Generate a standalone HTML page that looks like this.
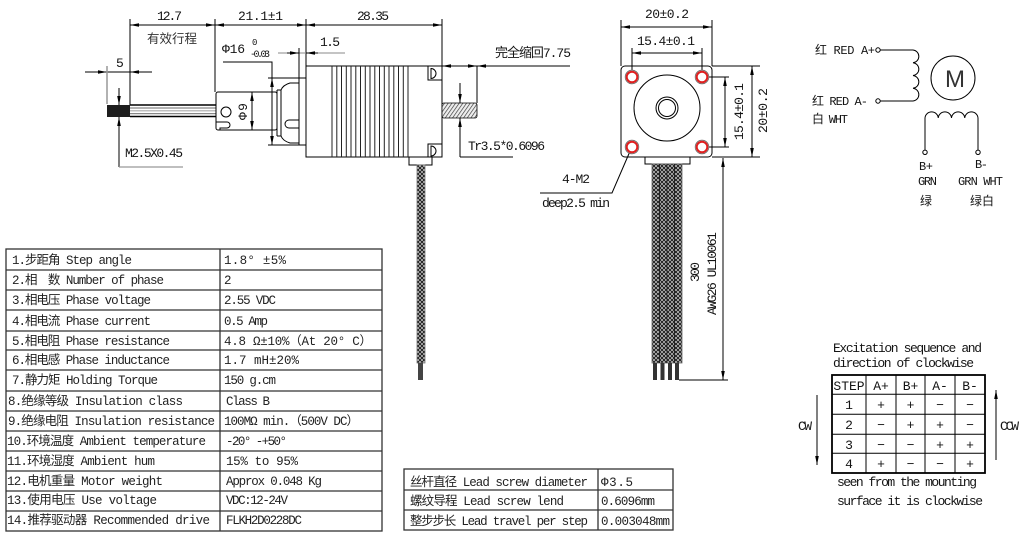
<!DOCTYPE html>
<html><head><meta charset="utf-8">
<style>
html,body{margin:0;padding:0;background:#fff;}
svg{display:block;}
text{font-family:"Liberation Mono","Noto Sans CJK SC",monospace;font-size:13px;fill:#141414;}
.cj{font-family:"Liberation Sans","Noto Sans CJK SC",sans-serif;}
.t{font-size:12.5px;fill:#222;}
</style></head><body>
<svg width="1021" height="534" viewBox="0 0 1021 534" xmlns="http://www.w3.org/2000/svg">
<defs>
<marker id="ar" viewBox="0 0 10 4" refX="10" refY="2" markerWidth="9" markerHeight="3.6" markerUnits="userSpaceOnUse" orient="auto-start-reverse"><path d="M0,0L10,2L0,4z" fill="#000"/></marker>
<pattern id="br" width="4" height="4" patternUnits="userSpaceOnUse"><rect width="4" height="4" fill="#bcbcbc"/><path d="M0,0L4,4M4,0L0,4" stroke="#111" stroke-width="0.85"/></pattern>
<pattern id="hx" width="3" height="3" patternUnits="userSpaceOnUse" patternTransform="rotate(35)"><rect width="3" height="3" fill="#eee"/><path d="M0,0V3" stroke="#333" stroke-width="1.3"/></pattern>
</defs>

<!-- ================= SIDE VIEW ================= -->
<g stroke="#000" stroke-width="1" fill="none">
  <line x1="130" y1="25" x2="215" y2="25" marker-start="url(#ar)" marker-end="url(#ar)"/>
  <line x1="215" y1="25" x2="306" y2="25" marker-start="url(#ar)" marker-end="url(#ar)"/>
  <line x1="306" y1="25" x2="442" y2="25" marker-start="url(#ar)" marker-end="url(#ar)"/>
  <path d="M130,19V105 M215,19V92 M306,19V66 M442,19V66"/>
  <path d="M85,72H152"/>
  <line x1="95" y1="72" x2="107" y2="72" marker-end="url(#ar)"/>
  <line x1="142" y1="72" x2="130" y2="72" marker-end="url(#ar)"/>
  <line x1="107" y1="66" x2="107" y2="104" stroke="#999" stroke-width="1.5"/>
  <line x1="119" y1="88" x2="119" y2="105" marker-end="url(#ar)"/>
  <line x1="119" y1="167" x2="119" y2="117" marker-end="url(#ar)"/>
  <line x1="119" y1="167" x2="183" y2="167" stroke="#999" stroke-width="1.2"/>
</g>
<rect x="107" y="105" width="23" height="12" fill="#1e1e1e"/>
<g fill="none">
  <line x1="130" y1="105" x2="216" y2="105" stroke="#000" stroke-width="1.5"/>
  <line x1="130" y1="108" x2="216" y2="108" stroke="#888" stroke-width="1.3"/>
  <line x1="130" y1="110.8" x2="216" y2="110.8" stroke="#aaa" stroke-width="1.2"/>
  <line x1="130" y1="113.6" x2="216" y2="113.6" stroke="#888" stroke-width="1.3"/>
  <line x1="130" y1="116.5" x2="216" y2="116.5" stroke="#000" stroke-width="1.5"/>
</g>
<g stroke="#000" stroke-width="1" fill="none">
  <rect x="216" y="92" width="61" height="38" rx="2" fill="#fff"/>
  <circle cx="226" cy="112" r="5"/>
  <path d="M216,122H227A3,3 0 0 1 227,128H220V130"/>
  <line x1="252" y1="92" x2="252" y2="130" marker-start="url(#ar)" marker-end="url(#ar)"/>
  <path d="M299,83H290Q283,85 281,90V136Q283,141 290,143H299"/>
  <path d="M277,90V136 M277,90H281 M277,136H281"/>
  <path d="M299,120H289A4,4 0 0 0 289,128H299"/>
  <rect x="299" y="78" width="7" height="67"/>
  <path d="M223,62H272V145 M268,78H299 M268,145H299"/>
  <line x1="272" y1="90" x2="272" y2="78" marker-end="url(#ar)"/>
  <line x1="272" y1="133" x2="272" y2="145" marker-end="url(#ar)"/>
  <path d="M278,53H345" stroke="#888"/>
  <line x1="287" y1="53" x2="299" y2="53" marker-end="url(#ar)"/>
  <line x1="318" y1="53" x2="306" y2="53" marker-end="url(#ar)"/>
  <path d="M299,48V78"/>
  <rect x="306" y="66" width="136" height="91"/>
  <path d="M332,66V157M336.8,66V157M341.5,66V157M346.3,66V157M351,66V157M355.8,66V157M360.5,66V157M365.3,66V157M370,66V157M374.8,66V157M379.5,66V157M384.3,66V157M389,66V157M393.8,66V157M398.5,66V157M403.3,66V157M408,66V157" stroke="#222"/>
  <path d="M428,66V80H442 M431,68.5A5,5 0 0 1 431,78.5Z"/>
  <path d="M428,157V144H442 M431,146A5,5 0 0 1 431,156Z"/>
  <rect x="409" y="157" width="23" height="8"/>
  <path d="M442,66H570 M477,66V103"/>
  <line x1="454" y1="66" x2="442" y2="66" marker-end="url(#ar)"/>
  <line x1="465" y1="66" x2="477" y2="66" marker-end="url(#ar)"/>
  <line x1="489" y1="66" x2="477" y2="66" marker-end="url(#ar)"/>
  <rect x="442" y="103" width="35" height="15" rx="2" fill="url(#hx)" stroke-width="0.8"/>
  <line x1="460" y1="83" x2="460" y2="103" marker-end="url(#ar)"/>
  <line x1="460" y1="157" x2="460" y2="118" marker-end="url(#ar)"/>
  <path d="M460,157H513"/>
</g>
<rect x="417" y="165" width="8" height="198" fill="url(#br)" stroke="#777" stroke-width="0.8"/>
<rect x="418" y="363" width="5" height="17" fill="#444"/>

<text x="157" y="20" textLength="25">12.7</text>
<text x="238" y="20" textLength="45">21.1±1</text>
<text x="357" y="20" textLength="32">28.35</text>
<text class="cj" x="147" y="43" textLength="50" style="font-size:12.5px;fill:#333">有效行程</text>
<text x="116" y="67" textLength="7">5</text>
<text x="125" y="157" textLength="58">M2.5X0.45</text>
<text x="222" y="53" textLength="23" style="font-size:13px">Φ16</text>
<text x="252" y="45" style="font-size:9px">0</text>
<text x="250" y="57" textLength="20" style="font-size:10px">-0.03</text>
<text x="320" y="46" textLength="20">1.5</text>
<text transform="translate(247,120) rotate(-90)" textLength="17">Φ9</text>
<text x="495" y="57" textLength="76">完全缩回7.75</text>
<text x="468" y="150" textLength="77">Tr3.5*0.6096</text>

<!-- ================= FRONT VIEW ================= -->
<g stroke="#000" stroke-width="1" fill="none">
  <rect x="621" y="66" width="91" height="91" rx="4"/>
  <circle cx="667" cy="108" r="33"/>
  <circle cx="667" cy="108" r="11"/>
  <circle cx="667" cy="108" r="8.5"/>
  <line x1="621" y1="27" x2="712" y2="27" marker-start="url(#ar)" marker-end="url(#ar)"/>
  <path d="M621,20V66 M712,20V66"/>
  <line x1="632" y1="53" x2="702" y2="53" marker-start="url(#ar)" marker-end="url(#ar)"/>
  <path d="M632,48V77 M702,48V77"/>
  <line x1="725" y1="77" x2="725" y2="147" marker-start="url(#ar)" marker-end="url(#ar)"/>
  <path d="M702,77H729 M702,147H729"/>
  <line x1="752" y1="66" x2="752" y2="157" marker-start="url(#ar)" marker-end="url(#ar)"/>
  <path d="M712,66H760 M712,157H760"/>
  <rect x="645" y="157" width="45" height="7"/>
  <path d="M723,158V380 M679,380H728"/>
  <line x1="723" y1="170" x2="723" y2="158" marker-end="url(#ar)"/>
  <line x1="723" y1="368" x2="723" y2="380" marker-end="url(#ar)"/>
  <path d="M631,149L612,193H540"/>
</g>
<g fill="#fff">
  <circle cx="632" cy="77" r="6.8" stroke="#666" stroke-width="0.8"/>
  <circle cx="702" cy="77" r="6.8" stroke="#666" stroke-width="0.8"/>
  <circle cx="632" cy="147" r="6.8" stroke="#666" stroke-width="0.8"/>
  <circle cx="702" cy="147" r="6.8" stroke="#666" stroke-width="0.8"/>
  <circle cx="632" cy="77" r="5.3" stroke="#e02020" stroke-width="2"/>
  <circle cx="702" cy="77" r="5.3" stroke="#e02020" stroke-width="2"/>
  <circle cx="632" cy="147" r="5.3" stroke="#e02020" stroke-width="2"/>
  <circle cx="702" cy="147" r="5.3" stroke="#e02020" stroke-width="2"/>
</g>
<rect x="652" y="164" width="30" height="199" fill="url(#br)" stroke="#666" stroke-width="0.8"/>
<path d="M659.5,164V363 M667,164V363 M674.5,164V363" stroke="#222" stroke-width="1"/>
<g fill="#333">
  <rect x="653" y="363" width="4" height="17"/>
  <rect x="660.5" y="363" width="4" height="17"/>
  <rect x="668" y="363" width="4" height="17"/>
  <rect x="675" y="363" width="4" height="17"/>
</g>
<text x="645" y="18" textLength="44">20±0.2</text>
<text x="637" y="45" textLength="58">15.4±0.1</text>
<text transform="translate(743,140) rotate(-90)" textLength="57">15.4±0.1</text>
<text transform="translate(767,133) rotate(-90)" textLength="45">20±0.2</text>
<text transform="translate(699,282) rotate(-90)" textLength="20">300</text>
<text transform="translate(716,315) rotate(-90)" textLength="83">AWG26 UL10061</text>
<text x="562" y="183" textLength="28">4-M2</text>
<text x="542" y="207" textLength="68">deep2.5 min</text>

<!-- ================= SCHEMATIC ================= -->
<g stroke="#000" stroke-width="1" fill="none">
  <path d="M880,50H913A6.4,6.4 0 0 1 913,62.75A6.4,6.4 0 0 1 913,75.5A6.4,6.4 0 0 1 913,88.25A6.4,6.4 0 0 1 913,101H880"/>
  <path d="M925,150V118A6.65,6.65 0 0 1 938.25,118A6.65,6.65 0 0 1 951.5,118A6.65,6.65 0 0 1 964.75,118A6.65,6.65 0 0 1 978,118V150"/>
  <circle cx="953" cy="78" r="22"/>
  <circle cx="878" cy="50" r="2.2" fill="#fff"/>
  <circle cx="878" cy="101" r="2.2" fill="#fff"/>
  <circle cx="925" cy="152.3" r="2.2" fill="#fff"/>
  <circle cx="978" cy="152.3" r="2.2" fill="#fff"/>
</g>
<text x="945" y="87" textLength="16" style="font-family:'Liberation Sans',sans-serif;font-size:24px;fill:#333">M</text>
<text x="815" y="54" textLength="60" style="font-size:12px">红 RED A+</text>
<text x="812" y="105" textLength="56" style="font-size:12px">红 RED A-</text>
<text x="812" y="123" textLength="36" style="font-size:12px">白 WHT</text>
<text x="919" y="170" textLength="14" style="font-size:12px">B+</text>
<text x="975" y="168" textLength="13" style="font-size:12px">B-</text>
<text x="918" y="185" textLength="19" style="font-size:12px">GRN</text>
<text x="958" y="185" textLength="45" style="font-size:12px">GRN WHT</text>
<text x="920" y="205" style="font-size:12px">绿</text>
<text x="970" y="205" textLength="24" style="font-size:12px">绿白</text>

<!-- ================= EXCITATION TABLE ================= -->
<text x="833" y="352" textLength="149">Excitation sequence and</text>
<text x="833" y="367" textLength="141">direction of clockwise</text>
<g stroke="#000" fill="none">
  <rect x="832" y="375" width="153" height="98" stroke-width="1.8"/>
  <path d="M832,394.3H985M832,414.3H985M832,434.3H985M832,453.3H985M866,375V473M896,375V473M925,375V473M955,375V473" stroke-width="1"/>
  <line x1="817" y1="395" x2="817" y2="465" marker-end="url(#ar)"/>
  <line x1="996" y1="460" x2="996" y2="390" marker-end="url(#ar)"/>
</g>
<g text-anchor="middle">
  <text x="849" y="390">STEP</text><text x="881" y="390">A+</text><text x="910.5" y="390">B+</text><text x="940" y="390">A-</text><text x="970" y="390">B-</text>
  <text x="849" y="409">1</text><text x="881" y="409">+</text><text x="910.5" y="409">+</text><text x="940" y="409">−</text><text x="970" y="409">−</text>
  <text x="849" y="429">2</text><text x="881" y="429">−</text><text x="910.5" y="429">+</text><text x="940" y="429">+</text><text x="970" y="429">−</text>
  <text x="849" y="449">3</text><text x="881" y="449">−</text><text x="910.5" y="449">−</text><text x="940" y="449">+</text><text x="970" y="449">+</text>
  <text x="849" y="468">4</text><text x="881" y="468">+</text><text x="910.5" y="468">−</text><text x="940" y="468">−</text><text x="970" y="468">+</text>
</g>
<text x="798" y="430" textLength="14">CW</text>
<text x="1000" y="430" textLength="19">CCW</text>
<text x="837" y="486" textLength="140">seen from the mounting</text>
<text x="837" y="505" textLength="146">surface it is clockwise</text>

<!-- ================= LEFT SPEC TABLE ================= -->
<g stroke="#333" stroke-width="1.3" fill="none">
  <rect x="6" y="249" width="376" height="282"/>
  <path d="M220,249V531 M6,270H382 M6,290H382 M6,310H382 M6,331H382 M6,350H382 M6,370H382 M6,391H382 M6,411H382 M6,431H382 M6,451H382 M6,471H382 M6,491H382 M6,511H382"/>
</g>
<text class="t" x="12" y="264" textLength="120">1.步距角 Step angle</text>
<text class="t" x="224" y="264" textLength="62">1.8° ±5%</text>
<text class="t" x="12" y="284" textLength="152">2.相　数 Number of phase</text>
<text class="t" x="224" y="284" textLength="7">2</text>
<text class="t" x="12" y="304" textLength="139">3.相电压 Phase voltage</text>
<text class="t" x="224" y="304" textLength="52">2.55 VDC</text>
<text class="t" x="12" y="325" textLength="139">4.相电流 Phase current</text>
<text class="t" x="224" y="325" textLength="44">0.5 Amp</text>
<text class="t" x="12" y="345" textLength="158">5.相电阻 Phase resistance</text>
<text class="t" x="224" y="345" textLength="148">4.8 Ω±10%（At 20° C）</text>
<text class="t" x="12" y="364" textLength="158">6.相电感 Phase inductance</text>
<text class="t" x="224" y="364" textLength="75">1.7 mH±20%</text>
<text class="t" x="12" y="384" textLength="146">7.静力矩 Holding Torque</text>
<text class="t" x="224" y="384" textLength="52">150 g.cm</text>
<text class="t" x="8" y="405" textLength="175">8.绝缘等级 Insulation class</text>
<text class="t" x="226" y="405" textLength="44">Class B</text>
<text class="t" x="8" y="425" textLength="207">9.绝缘电阻 Insulation resistance</text>
<text class="t" x="224" y="425" textLength="135">100MΩ min.（500V DC）</text>
<text class="t" x="7" y="445" textLength="199">10.环境温度 Ambient temperature</text>
<text class="t" x="226" y="445" textLength="61">-20° -+50°</text>
<text class="t" x="7" y="465" textLength="148">11.环境湿度 Ambient hum</text>
<text class="t" x="226" y="465" textLength="72">15% to 95%</text>
<text class="t" x="7" y="485" textLength="156">12.电机重量 Motor weight</text>
<text class="t" x="226" y="485" textLength="96">Approx 0.048 Kg</text>
<text class="t" x="7" y="504" textLength="150">13.使用电压 Use voltage</text>
<text class="t" x="226" y="504" textLength="62">VDC:12-24V</text>
<text class="t" x="7" y="524" textLength="203">14.推荐驱动器 Recommended drive</text>
<text class="t" x="226" y="524" textLength="76">FLKH2D0228DC</text>

<!-- ================= MIDDLE TABLE ================= -->
<g stroke="#333" stroke-width="1.3" fill="none">
  <rect x="404" y="469" width="269" height="61"/>
  <path d="M598,469V530 M404,490H673 M404,510H673"/>
</g>
<text class="t" x="410" y="486" textLength="178">丝杆直径 Lead screw diameter</text>
<text class="t" x="601" y="486" textLength="32">Φ3.5</text>
<text class="t" x="410" y="505" textLength="154">螺纹导程 Lead screw lend</text>
<text class="t" x="601" y="505" textLength="54">0.6096mm</text>
<text class="t" x="410" y="525" textLength="178">整步步长 Lead travel per step</text>
<text class="t" x="601" y="525" textLength="69">0.003048mm</text>
</svg>
</body></html>
